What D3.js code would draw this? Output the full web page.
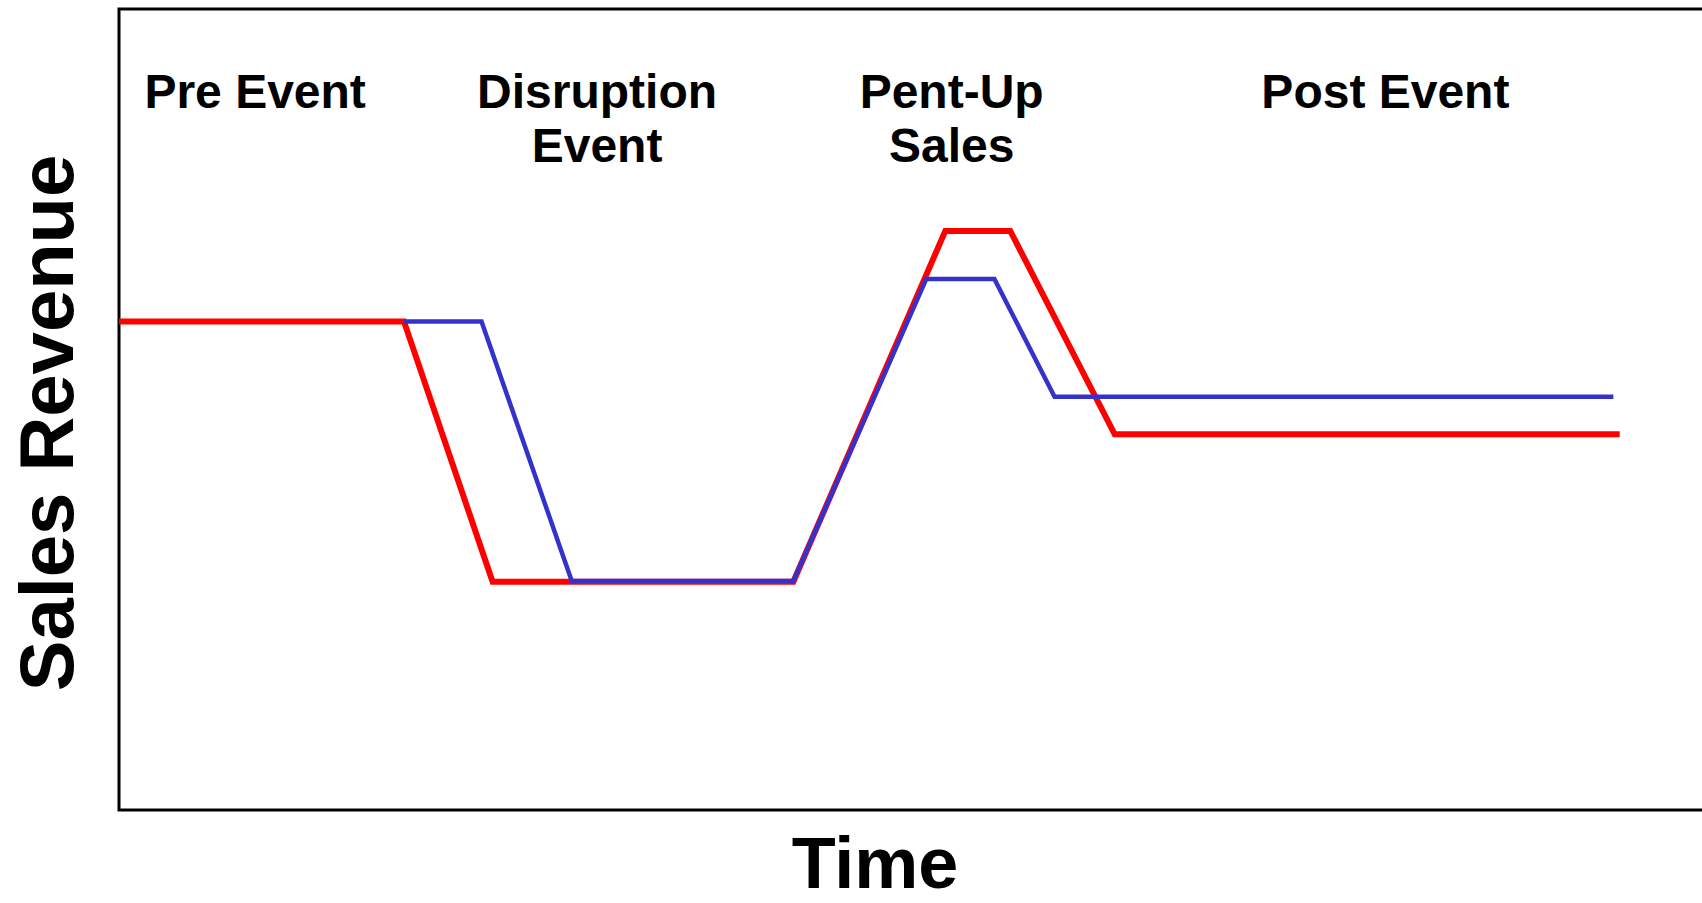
<!DOCTYPE html>
<html>
<head>
<meta charset="utf-8">
<title>Sales Revenue over Time</title>
<script src="https://cdnjs.cloudflare.com/ajax/libs/d3/7.8.5/d3.min.js"></script>
<style>
  html, body { margin: 0; padding: 0; background: #fff; }
  text { font-family: "Liberation Sans", Arial, sans-serif; font-weight: bold; fill: #000; }
</style>
</head>
<body>
<div id="chart"></div>
<script>
  // phases of the event (x position = centre of label, in time units)
  const phaseLabels = [["Pre Event"], ["Disruption", "Event"], ["Pent-Up", "Sales"], ["Post Event"]];
  const phaseCenters = [8.6, 30.2, 52.6, 80];

  // red series: time, revenue
  const redTime = [0, 18, 23.6, 42.6, 52.2, 56.3, 62.9, 94.8];
  const redRevenue = [61, 61, 28.5, 28.5, 72.3, 72.3, 46.9, 46.9];

  // blue series
  const blueTime = [18, 22.9, 28.6, 42.6, 51, 55.3, 59.1, 94.4];
  const blueRevenue = [61, 61, 28.6, 28.6, 66.3, 66.3, 51.6, 51.6];

  const width = 1702, height = 903;
  const plotLeft = 119, plotTop = 9, plotRight = 1702, plotBottom = 810;

  const svg = d3.select('#chart')
    .append('svg')
    .attr('width', width)
    .attr('height', height);

  const x = d3.scaleLinear().domain([0, 100]).range([plotLeft, plotRight]);
  const y = d3.scaleLinear().domain([0, 100]).range([plotBottom, plotTop]);

  // frame (right edge runs off the picture)
  svg.append('rect')
    .attr('x', x(0))
    .attr('y', y(100))
    .attr('width', x(100) - x(0) + 20)
    .attr('height', y(0) - y(100))
    .attr('fill', 'none')
    .attr('stroke', '#000')
    .attr('stroke-width', 3);

  const line = d3.line().x(d => x(d[0])).y(d => y(d[1]));

  const red = redTime.map((t, i) => [t, redRevenue[i]]);
  const blue = blueTime.map((t, i) => [t, blueRevenue[i]]);

  svg.append('path')
    .attr('d', line(red))
    .attr('fill', 'none')
    .attr('stroke', '#ff0000')
    .attr('stroke-width', 6);

  svg.append('path')
    .attr('d', line(blue))
    .attr('fill', 'none')
    .attr('stroke', '#3333cc')
    .attr('stroke-width', 4.5);

  // phase labels
  const labels = svg.selectAll('.phase')
    .data(phaseLabels)
    .join('text')
    .attr('class', 'phase')
    .attr('text-anchor', 'middle')
    .attr('x', (d, i) => x(phaseCenters[i]))
    .attr('y', 108)
    .style('font-size', '48px');

  labels.selectAll('tspan')
    .data(d => d)
    .join('tspan')
    .attr('x', function () { return d3.select(this.parentNode).attr('x'); })
    .attr('dy', (d, i) => i === 0 ? 0 : 54)
    .text(d => d);

  // axis titles
  svg.append('text')
    .attr('text-anchor', 'middle')
    .attr('x', 875)
    .attr('y', 888)
    .style('font-size', '72px')
    .text('Time');

  svg.append('text')
    .attr('text-anchor', 'middle')
    .attr('transform', 'translate(73,423) rotate(-90)')
    .style('font-size', '76px')
    .text('Sales Revenue');
</script>
</body>
</html>
